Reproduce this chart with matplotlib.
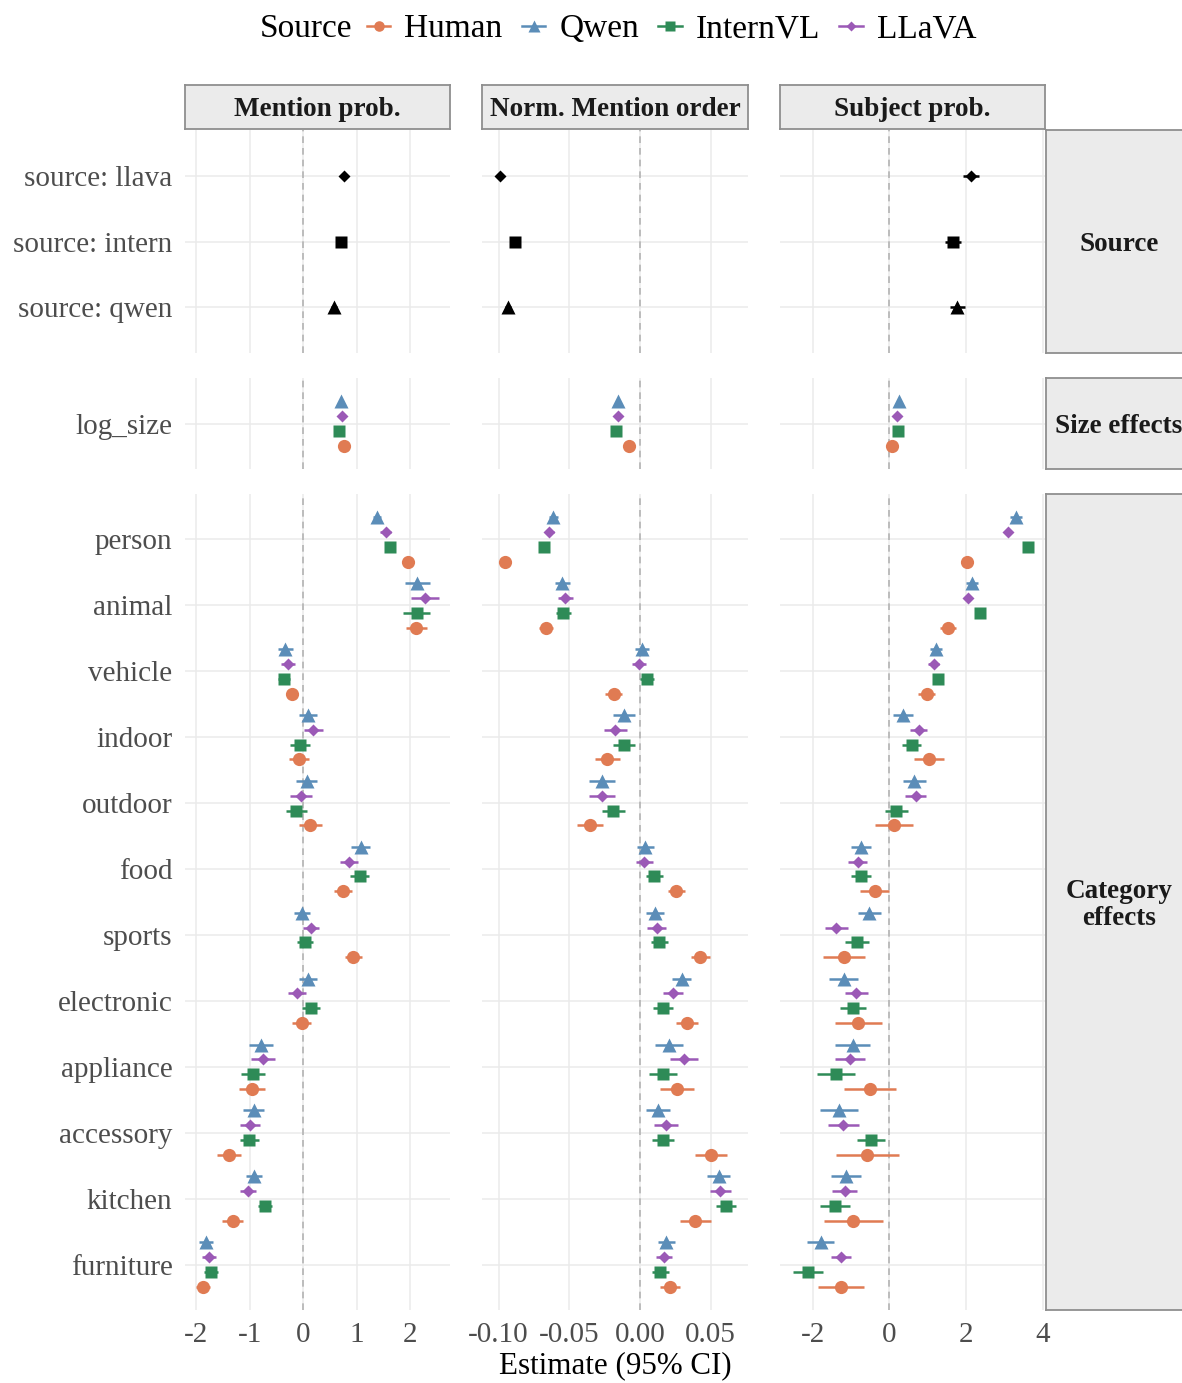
import numpy as np
import matplotlib
matplotlib.use("Agg")
import matplotlib.pyplot as plt
from matplotlib.lines import Line2D

plt.rcParams['font.family'] = ['Liberation Serif', 'DejaVu Serif']

W, H = 1182, 1383

# ---- data -------------------------------------------------------------
SOURCES = ["Human", "Qwen", "InternVL", "LLaVA"]
COLORS = {"Human": "#E07B53", "Qwen": "#5B8DB8", "InternVL": "#2E8B57", "LLaVA": "#9B59B6"}
MARKERS = {"Human": "o", "Qwen": "^", "InternVL": "s", "LLaVA": "D"}

CATEGORIES = ["person", "animal", "vehicle", "indoor", "outdoor", "food", "sports",
              "electronic", "appliance", "accessory", "kitchen", "furniture"]
SOURCE_TERMS = ["source: llava", "source: intern", "source: qwen"]
SOURCE_TERM_MARKERS = ["D", "s", "^"]
SIZE_TERMS = ["log_size"]

METRICS = ["Mention prob.", "Norm. Mention order", "Subject prob."]

# source-term effects (llava, intern, qwen)
src_mention = [0.76, 0.71, 0.57]
src_mention_ci = [0.06, 0.06, 0.06]
src_order = [-0.0989, -0.0883, -0.0934]
src_order_ci = [0.002, 0.002, 0.002]
src_subject = [2.12, 1.65, 1.77]
src_subject_ci = [0.2, 0.2, 0.2]

# log_size effects (Human, Qwen, InternVL, LLaVA)
size_mention = [0.76, 0.70, 0.67, 0.72]
size_order = [-0.0075, -0.0153, -0.0169, -0.0157]
size_subject = [0.06, 0.26, 0.22, 0.20]
size_ci = [0.03, 0.0008, 0.05]

# category effects: Mention prob.
mention_human = [1.96, 2.11, -0.21, -0.08, 0.13, 0.74, 0.93, -0.03, -0.96, -1.39, -1.32, -1.87]
mention_human_ci = [0.08, 0.2, 0.1, 0.19, 0.21, 0.17, 0.16, 0.18, 0.25, 0.22, 0.19, 0.13]
mention_qwen = [1.375, 2.13, -0.34, 0.09, 0.06, 1.07, -0.02, 0.09, -0.79, -0.93, -0.925, -1.81]
mention_qwen_ci = [0.08, 0.23, 0.14, 0.17, 0.2, 0.17, 0.15, 0.17, 0.23, 0.19, 0.15, 0.13]
mention_intern = [1.61, 2.12, -0.36, -0.06, -0.13, 1.05, 0.04, 0.15, -0.94, -1.01, -0.72, -1.73]
mention_intern_ci = [0.08, 0.25, 0.12, 0.18, 0.2, 0.17, 0.15, 0.17, 0.23, 0.18, 0.13, 0.13]
mention_llava = [1.54, 2.27, -0.28, 0.19, -0.04, 0.86, 0.14, -0.12, -0.75, -1.0, -1.03, -1.77]
mention_llava_ci = [0.1, 0.26, 0.13, 0.18, 0.2, 0.17, 0.15, 0.17, 0.23, 0.19, 0.15, 0.13]

# category effects: Norm. Mention order
order_human = [-0.0958, -0.0667, -0.0185, -0.0232, -0.0354, 0.0254, 0.0427, 0.0331, 0.026, 0.05, 0.039, 0.0211]
order_human_ci = [0.003, 0.005, 0.006, 0.009, 0.0095, 0.006, 0.0065, 0.008, 0.012, 0.0115, 0.011, 0.007]
order_qwen = [-0.0613, -0.0549, 0.0012, -0.0115, -0.0268, 0.0038, 0.0106, 0.0293, 0.0204, 0.0129, 0.0556, 0.0185]
order_qwen_ci = [0.003, 0.005, 0.005, 0.008, 0.009, 0.006, 0.0065, 0.007, 0.01, 0.0085, 0.008, 0.006]
order_intern = [-0.0683, -0.0542, 0.0049, -0.0113, -0.019, 0.0099, 0.0134, 0.0162, 0.0162, 0.0162, 0.0606, 0.0141]
order_intern_ci = [0.003, 0.005, 0.005, 0.008, 0.008, 0.006, 0.006, 0.007, 0.01, 0.008, 0.007, 0.006]
order_llava = [-0.0641, -0.0528, -0.0005, -0.0176, -0.027, 0.0028, 0.0117, 0.023, 0.0312, 0.0183, 0.0568, 0.0169]
order_llava_ci = [0.003, 0.005, 0.005, 0.008, 0.009, 0.006, 0.0065, 0.007, 0.01, 0.0085, 0.0077, 0.006]

# category effects: Subject prob.
subject_human = [2.02, 1.52, 0.97, 1.03, 0.12, -0.38, -1.19, -0.81, -0.51, -0.58, -0.94, -1.26]
subject_human_ci = [0.15, 0.2, 0.22, 0.38, 0.49, 0.38, 0.55, 0.61, 0.67, 0.82, 0.76, 0.59]
subject_qwen = [3.29, 2.15, 1.21, 0.355, 0.64, -0.74, -0.52, -1.19, -0.96, -1.32, -1.12, -1.79]
subject_qwen_ci = [0.15, 0.15, 0.15, 0.25, 0.3, 0.25, 0.3, 0.38, 0.46, 0.5, 0.39, 0.35]
subject_intern = [3.62, 2.37, 1.26, 0.58, 0.18, -0.75, -0.85, -0.95, -1.39, -0.48, -1.42, -2.12]
subject_intern_ci = [0.1, 0.1, 0.1, 0.25, 0.3, 0.26, 0.32, 0.35, 0.5, 0.37, 0.38, 0.39]
subject_llava = [3.09, 2.04, 1.15, 0.76, 0.68, -0.83, -1.38, -0.87, -1.03, -1.2, -1.17, -1.27]
subject_llava_ci = [0.1, 0.1, 0.15, 0.22, 0.28, 0.24, 0.3, 0.3, 0.4, 0.4, 0.33, 0.26]

CAT_DATA = [
    {"Human": (mention_human, mention_human_ci), "Qwen": (mention_qwen, mention_qwen_ci),
     "InternVL": (mention_intern, mention_intern_ci), "LLaVA": (mention_llava, mention_llava_ci)},
    {"Human": (order_human, order_human_ci), "Qwen": (order_qwen, order_qwen_ci),
     "InternVL": (order_intern, order_intern_ci), "LLaVA": (order_llava, order_llava_ci)},
    {"Human": (subject_human, subject_human_ci), "Qwen": (subject_qwen, subject_qwen_ci),
     "InternVL": (subject_intern, subject_intern_ci), "LLaVA": (subject_llava, subject_llava_ci)},
]
SRC_DATA = [(src_mention, src_mention_ci), (src_order, src_order_ci), (src_subject, src_subject_ci)]
SIZE_DATA = [size_mention, size_order, size_subject]

XLIMS = [(-2.21, 2.74), (-0.1118, 0.0763), (-2.85, 4.05)]
XTICKS = [[-2, -1, 0, 1, 2], [-0.10, -0.05, 0.00, 0.05], [-2, 0, 2, 4]]
XTICKLABELS = [["-2", "-1", "0", "1", "2"], ["-0.10", "-0.05", "0.00", "0.05"], ["-2", "0", "2", "4"]]

# dodge offsets (top to bottom: Qwen, LLaVA, InternVL, Human)
DODGE = {"Qwen": -0.3375, "LLaVA": -0.1125, "InternVL": 0.1125, "Human": 0.3375}

# ---- layout (pixels) ---------------------------------------------------
COLS = [(185, 450), (482, 748), (780, 1045)]
ROWS = [(130, 353), (378, 469), (494, 1310)]
ROW_LABELS = ["Source", "Size effects", "Category\neffects"]

FS = 21
GRID = "#EBEBEB"
TXT = "#4D4D4D"


def px_rect(x0, y0, x1, y1):
    return [x0 / W, 1 - y1 / H, (x1 - x0) / W, (y1 - y0) / H]


def style_axes(ax, nrows, col, row):
    ax.set_xlim(*XLIMS[col])
    ax.set_ylim(nrows - 1 + 0.69, -0.69)
    for s in ax.spines.values():
        s.set_visible(False)
    ax.set_xticks(XTICKS[col])
    ax.set_yticks(range(nrows))
    ax.grid(True, color=GRID, lw=1.1, zorder=0)
    ax.set_axisbelow(True)
    ax.tick_params(length=0, labelsize=FS, labelcolor=TXT, pad=9)
    ax.axvline(0, color="#B3B3B3", lw=1.2, ls=(0, (4, 3)), zorder=1)
    if row == 2:
        ax.set_xticklabels(XTICKLABELS[col])
    else:
        ax.set_xticklabels([])


def draw_point(ax, x, y, ci, color, marker, ms):
    ax.plot([x - ci, x + ci], [y, y], color=color, lw=1.8, solid_capstyle="butt", zorder=2)
    ax.plot([x], [y], marker=marker, color=color, ms=ms, mec="none", zorder=3)


MS = {"o": 9.5, "^": 10.5, "s": 9.0, "D": 6.5}

fig = plt.figure(figsize=(W / 100, H / 100), dpi=100)

for col in range(3):
    # source row
    ax = fig.add_axes(px_rect(COLS[col][0], ROWS[0][0], COLS[col][1], ROWS[0][1]))
    style_axes(ax, 3, col, 0)
    vals, cis = SRC_DATA[col]
    for i, (v, c, m) in enumerate(zip(vals, cis, SOURCE_TERM_MARKERS)):
        draw_point(ax, v, i, c, "black", m, MS[m])
    ax.set_yticklabels(SOURCE_TERMS if col == 0 else [])

    # size row
    ax = fig.add_axes(px_rect(COLS[col][0], ROWS[1][0], COLS[col][1], ROWS[1][1]))
    style_axes(ax, 1, col, 1)
    for k, src in enumerate(SOURCES):
        m = MARKERS[src]
        draw_point(ax, SIZE_DATA[col][k], DODGE[src], size_ci[col], COLORS[src], m, MS[m])
    ax.set_yticklabels(SIZE_TERMS if col == 0 else [])

    # category row
    ax = fig.add_axes(px_rect(COLS[col][0], ROWS[2][0], COLS[col][1], ROWS[2][1]))
    style_axes(ax, len(CATEGORIES), col, 2)
    for src in SOURCES:
        est, ci = CAT_DATA[col][src]
        m = MARKERS[src]
        for i, (v, c) in enumerate(zip(est, ci)):
            draw_point(ax, v, i + DODGE[src], c, COLORS[src], m, MS[m])
    ax.set_yticklabels(CATEGORIES if col == 0 else [])

# strips
def strip(x0, y0, x1, y1, label):
    sa = fig.add_axes(px_rect(x0, y0, x1, y1))
    sa.set_facecolor("#EBEBEB")
    sa.set_xticks([])
    sa.set_yticks([])
    for s in sa.spines.values():
        s.set_color("#8F8F8F")
        s.set_linewidth(1.3)
    ypos = 0.5 - 3.0 / (y1 - y0)
    sa.text(0.5, ypos, label, transform=sa.transAxes, ha="center", va="center",
            fontsize=19.5, fontweight="bold", color="#1A1A1A", linespacing=1.15)


for col in range(3):
    strip(COLS[col][0], 85, COLS[col][1], 129, METRICS[col])
for row in range(3):
    strip(1046, ROWS[row][0], 1192, ROWS[row][1], ROW_LABELS[row])

fig.text(615 / W, 1 - 1366 / H, "Estimate (95% CI)", ha="center", va="center",
         fontsize=22.3, color="black")

# legend
fig.text(260 / W, 1 - 29 / H, "Source", ha="left", va="center", fontsize=24)
handles = [Line2D([0], [0], color=COLORS[s], marker=MARKERS[s], lw=1.8,
                  ms=MS[MARKERS[s]] * 0.8, mec="none") for s in SOURCES]
fig.legend(handles, SOURCES, loc="center left", bbox_to_anchor=(367 / W, 1 - 29 / H),
           ncol=4, frameon=False, fontsize=24, handlelength=0.7, handletextpad=0.42,
           columnspacing=0.58, borderaxespad=0, borderpad=0)

fig.savefig("out.png", dpi=100)
